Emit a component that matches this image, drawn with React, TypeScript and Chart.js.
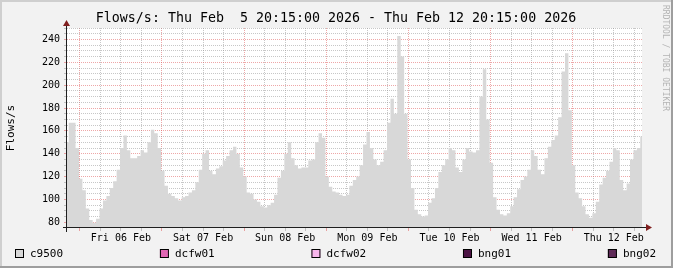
import React, { useEffect, useRef } from 'react';
import { Chart, registerables } from 'chart.js';

Chart.register(...registerables);

const TITLE = 'Flows/s: Thu Feb  5 20:15:00 2026 - Thu Feb 12 20:15:00 2026';
const Y_TITLE = 'Flows/s';
const WATERMARK = 'RRDTOOL / TOBI OETIKER';

const SERIES_NAMES = ['c9500', 'dcfw01', 'dcfw02', 'bng01', 'bng02'];
const SERIES_COLORS = ['#D8D8D8', '#E066B3', '#F8B6EC', '#4C1444', '#5E2A57'];

// hourly samples of c9500 flows/s, starting Thu 05 Feb 20:15
const C9500 = [
  150, 167, 167, 145, 118, 108, 92, 82, 79.5, 83,
  92, 99, 103, 110, 116, 126, 145, 156, 143, 136,
  136, 138, 143, 141, 150, 161, 158, 145, 125, 112,
  105, 103, 101, 99, 102, 103, 106, 108, 115, 126,
  140, 143, 125, 122, 127, 129, 134, 138, 143, 146,
  140, 128, 120, 106, 105, 100, 98, 94, 93, 95,
  97, 104, 119, 125, 140, 150, 136, 130, 127, 128,
  128, 134, 135, 150, 158, 154, 120, 111, 107, 106,
  104, 103, 104, 112, 117, 120, 130, 148, 159, 145,
  135, 130, 133, 143, 167, 188, 175, 243, 225, 175,
  135, 110, 91, 87, 85, 86, 97, 101, 110, 124,
  130, 135, 145, 143, 128, 124, 135, 145, 142, 141,
  143, 190, 214, 170, 132, 102, 91, 87, 86, 88,
  94, 102, 109, 117, 120, 126, 143, 138, 126, 122,
  136, 146, 152, 156, 172, 212, 228, 178, 130, 106,
  101, 94, 87, 84, 88, 98, 113, 119, 125, 133,
  145, 143, 117, 108, 114, 135, 143, 145, 155,
];
const DCFW01: number[] = [];
const DCFW02: number[] = [];
const BNG01: number[] = [];
const BNG02: number[] = [];

const X_MIN = 0;
const X_MAX = 168;
const Y_MIN = 75;
const Y_MAX = 250;

const X_GRID_HOURS = [
  3.75, 9.75, 15.75, 21.75, 27.75, 33.75, 39.75, 45.75, 51.75, 57.75,
  63.75, 69.75, 75.75, 81.75, 87.75, 93.75, 99.75, 105.75, 111.75, 117.75,
  123.75, 129.75, 135.75, 141.75, 147.75, 153.75, 159.75, 165.75,
];
const DAY_START_HOURS = [3.75, 27.75, 51.75, 75.75, 99.75, 123.75, 147.75];
const DAY_LABEL_HOURS = [15.75, 39.75, 63.75, 87.75, 111.75, 135.75, 159.75];
const DAY_LABELS = ['Fri 06 Feb', 'Sat 07 Feb', 'Sun 08 Feb', 'Mon 09 Feb', 'Tue 10 Feb', 'Wed 11 Feb', 'Thu 12 Feb'];

const Y_GRID = [
  80, 85, 90, 95, 100, 105, 110, 115, 120, 125, 130, 135, 140, 145, 150, 155, 160, 165,
  170, 175, 180, 185, 190, 195, 200, 205, 210, 215, 220, 225, 230, 235, 240, 245, 250,
];
const Y_LABELS = [80, 100, 120, 140, 160, 180, 200, 220, 240];

const FONT = 'DejaVu Sans Mono';
const MGRID = 'rgba(222,79,79,0.5)';
const GRID = 'rgba(143,143,143,0.5)';

const rrdPlugin = {
  id: 'rrd',
  beforeDraw(chart: any) {
    const { ctx, width, height, chartArea } = chart;
    ctx.save();
    ctx.fillStyle = '#F2F2F2';
    ctx.fillRect(0, 0, width, height);
    ctx.fillStyle = '#CFCFCF';
    ctx.fillRect(0, 0, width, 2);
    ctx.fillRect(0, 0, 2, height);
    ctx.fillStyle = '#9E9E9E';
    ctx.fillRect(0, height - 2, width, 2);
    ctx.fillRect(width - 2, 0, 2, height);
    ctx.fillStyle = '#FFFFFF';
    ctx.fillRect(chartArea.left, chartArea.top, chartArea.right - chartArea.left, chartArea.bottom - chartArea.top);
    ctx.restore();
  },
  afterDraw(chart: any) {
    const { ctx, width, chartArea } = chart;
    const { left, right, top, bottom } = chartArea;
    ctx.save();
    // axes
    ctx.fillStyle = '#1F1F1F';
    ctx.fillRect(left - 1, top - 2, 1, bottom - top + 6);
    ctx.fillRect(left - 4, bottom - 1, right - left + 8, 1);
    // arrows
    ctx.fillStyle = '#801F1F';
    ctx.beginPath();
    ctx.moveTo(left - 0.5, top - 8);
    ctx.lineTo(left - 4, top - 2);
    ctx.lineTo(left + 3, top - 2);
    ctx.closePath();
    ctx.fill();
    ctx.beginPath();
    ctx.moveTo(right + 10, bottom - 0.5);
    ctx.lineTo(right + 4, bottom - 4);
    ctx.lineTo(right + 4, bottom + 3);
    ctx.closePath();
    ctx.fill();

    // title
    ctx.fillStyle = '#000';
    ctx.font = `13.3px "${FONT}"`;
    ctx.textAlign = 'center';
    ctx.textBaseline = 'middle';
    ctx.fillText(TITLE, 336, 19);

    // y title
    ctx.save();
    ctx.translate(11, (top + bottom) / 2);
    ctx.rotate(-Math.PI / 2);
    ctx.font = `11px "${FONT}"`;
    ctx.fillText(Y_TITLE, 0, 0);
    ctx.restore();

    // watermark
    ctx.save();
    ctx.translate(width - 8, 5);
    ctx.rotate(Math.PI / 2);
    ctx.font = `8px "${FONT}"`;
    ctx.fillStyle = '#B4B4B4';
    ctx.textAlign = 'left';
    ctx.fillText(WATERMARK, 0, 0);
    ctx.restore();

    // legend, justified
    const ds = chart.data.datasets;
    ctx.font = `11px "${FONT}"`;
    const widths = ds.map((d: any) => 15 + ctx.measureText(d.label).width);
    const lx0 = 15;
    const lx1 = width - 17;
    const total = widths.reduce((a: number, b: number) => a + b, 0);
    const gap = ds.length > 1 ? (lx1 - lx0 - total) / (ds.length - 1) : 0;
    let x = lx0;
    const ly = 254;
    ds.forEach((d: any, i: number) => {
      ctx.fillStyle = d.backgroundColor;
      ctx.fillRect(x, ly - 5, 9, 9);
      ctx.strokeStyle = '#000';
      ctx.lineWidth = 1;
      ctx.strokeRect(x + 0.5, ly - 4.5, 8, 8);
      ctx.fillStyle = '#000';
      ctx.textAlign = 'left';
      ctx.textBaseline = 'middle';
      ctx.fillText(d.label, x + 15, ly);
      x += widths[i] + gap;
    });
    ctx.restore();
  },
};

export default function App() {
  const ref = useRef<HTMLCanvasElement | null>(null);

  useEffect(() => {
    document.body.style.margin = '0';
    const canvas = ref.current;
    if (!canvas) return;
    const series = [C9500, DCFW01, DCFW02, BNG01, BNG02];
    const chart = new Chart(canvas, {
      type: 'line',
      data: {
        datasets: series.map((vals, i) => ({
          label: SERIES_NAMES[i],
          data: vals.map((v, j) => ({ x: j, y: v })),
          backgroundColor: SERIES_COLORS[i],
          borderColor: SERIES_COLORS[i],
          borderWidth: 0,
          pointRadius: 0,
          fill: 'start',
          stepped: 'middle',
        })),
      },
      options: {
        responsive: false,
        animation: false,
        devicePixelRatio: 1,
        events: [],
        layout: { padding: { left: 0, right: 31, top: 28, bottom: 24 } },
        plugins: {
          legend: { display: false },
          title: { display: false },
          tooltip: { enabled: false },
        },
        scales: {
          x: {
            type: 'linear',
            min: X_MIN,
            max: X_MAX,
            z: 1,
            afterBuildTicks: (s: any) => {
              s.ticks = X_GRID_HOURS.map((v) => ({ value: v }));
            },
            afterFit: (s: any) => {
              s.height = 16;
            },
            ticks: {
              autoSkip: false,
              maxRotation: 0,
              minRotation: 0,
              padding: 1,
              color: '#000',
              font: { family: FONT, size: 10 },
              callback: (v: any) => {
                const k = DAY_LABEL_HOURS.indexOf(Number(v));
                return k >= 0 ? DAY_LABELS[k] : '';
              },
            },
            grid: {
              color: (c: any) => (DAY_START_HOURS.includes(c.tick?.value) ? MGRID : GRID),
              tickColor: (c: any) => (DAY_START_HOURS.includes(c.tick?.value) ? MGRID : GRID),
              lineWidth: 1,
              drawTicks: true,
              tickLength: 3,
              tickBorderDash: [],
            },
            border: { display: false, dash: [1, 1] },
          },
          y: {
            type: 'linear',
            min: Y_MIN,
            max: Y_MAX,
            z: 1,
            afterBuildTicks: (s: any) => {
              s.ticks = Y_GRID.map((v) => ({ value: v }));
            },
            afterFit: (s: any) => {
              s.width = 67;
            },
            ticks: {
              autoSkip: false,
              padding: 4,
              color: '#000',
              font: { family: FONT, size: 10 },
              callback: (v: any) => (Y_LABELS.includes(Number(v)) ? String(v) : ''),
            },
            grid: {
              color: (c: any) => (Y_LABELS.includes(c.tick?.value) ? MGRID : GRID),
              tickColor: (c: any) => (Y_LABELS.includes(c.tick?.value) ? MGRID : GRID),
              lineWidth: 1,
              drawTicks: true,
              tickLength: 3,
              tickBorderDash: [],
            },
            border: { display: false, dash: [1, 1] },
          },
        },
      },
      plugins: [rrdPlugin],
    } as any);
    return () => chart.destroy();
  }, []);

  return (
    <div style={{ position: 'absolute', left: 0, top: 0, width: 673, height: 268 }}>
      <canvas ref={ref} width={673} height={268} style={{ display: 'block', width: 673, height: 268 }} />
    </div>
  );
}
